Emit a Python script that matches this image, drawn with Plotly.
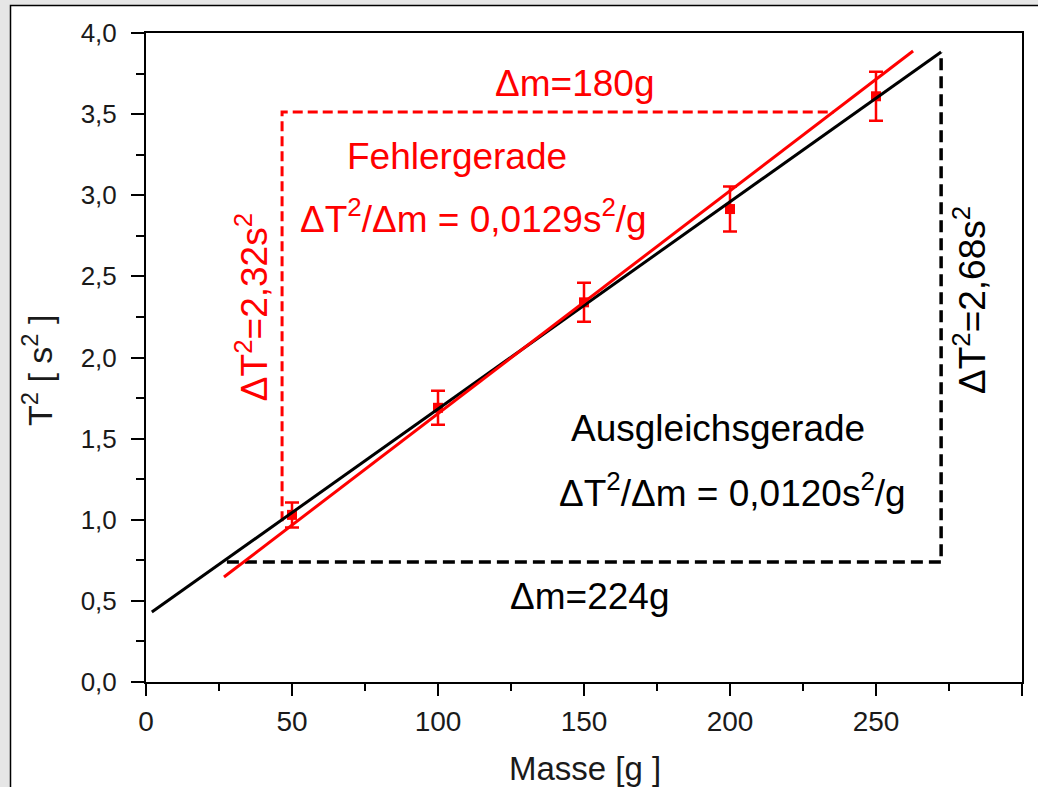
import plotly.graph_objects as go

# data
mass = [50, 100, 150, 200, 250]
t2 = [1.03, 1.69, 2.34, 2.915, 3.61]
t2_err = [0.077, 0.105, 0.12, 0.139, 0.151]

fit_x = [2.0, 272.3]
fit_y = [0.431, 3.883]
err_x = [26.7, 262.7]
err_y = [0.647, 3.889]

tri_black_x = [27.7, 272.3, 272.3]
tri_black_y = [0.74, 0.74, 3.883]
tri_red_x = [46.6, 46.6, 235.5]
tri_red_y = [0.99, 3.513, 3.513]

x_ticks = [0, 50, 100, 150, 200, 250, 300]
y_ticks = [0.0, 0.5, 1.0, 1.5, 2.0, 2.5, 3.0, 3.5, 4.0]

FONT = "Liberation Sans, Arial, sans-serif"
RED = "#ff0000"

fig = go.Figure()

fig.add_trace(go.Scatter(x=tri_black_x, y=tri_black_y, mode="lines",
                         line=dict(color="black", width=3.5, dash="12px,6px"),
                         showlegend=False, hoverinfo="skip"))
fig.add_trace(go.Scatter(x=tri_red_x, y=tri_red_y, mode="lines",
                         line=dict(color=RED, width=3, dash="10px,5px"),
                         showlegend=False, hoverinfo="skip"))
fig.add_trace(go.Scatter(x=mass, y=t2, mode="markers",
                         marker=dict(symbol="square", size=10, color=RED),
                         error_y=dict(type="data", array=t2_err, visible=True,
                                      color=RED, thickness=2.5, width=7),
                         showlegend=False))
fig.add_trace(go.Scatter(x=fit_x, y=fit_y, mode="lines",
                         line=dict(color="black", width=3),
                         showlegend=False, hoverinfo="skip"))
fig.add_trace(go.Scatter(x=err_x, y=err_y, mode="lines",
                         line=dict(color=RED, width=3),
                         showlegend=False, hoverinfo="skip"))

ann_font = dict(family=FONT, size=37)
annotations = [
    dict(x=146.9, y=3.69, text="Δm=180g", font=dict(ann_font, color=RED)),
    dict(x=106.5, y=3.236, text="Fehlergerade", font=dict(ann_font, color=RED)),
    dict(x=112, y=2.87, text="ΔT<sup>2</sup>/Δm = 0,0129s<sup>2</sup>/g", font=dict(ann_font, color=RED)),
    dict(x=36.3, y=2.31, text="ΔT<sup>2</sup>=2,32s<sup>2</sup>", textangle=-90, font=dict(ann_font, color=RED)),
    dict(x=195.9, y=1.565, text="Ausgleichsgerade", font=dict(ann_font, color="black")),
    dict(x=201, y=1.18, text="ΔT<sup>2</sup>/Δm = 0,0120s<sup>2</sup>/g", font=dict(ann_font, color="black")),
    dict(x=152, y=0.524, text="Δm=224g", font=dict(ann_font, color="black")),
    dict(x=282.2, y=2.354, text="ΔT<sup>2</sup>=2,68s<sup>2</sup>", textangle=-90, font=dict(ann_font, color="black")),
]
for a in annotations:
    a.update(xref="x", yref="y", showarrow=False, xanchor="center", yanchor="middle")

# axis titles as paper annotations
annotations.append(dict(xref="paper", yref="paper", x=(585 - 146) / 876, y=(682 - 768) / 649,
                        text="Masse [g ]", showarrow=False, xanchor="center", yanchor="middle",
                        font=dict(family=FONT, size=33, color="#1a1a1a")))
annotations.append(dict(xref="paper", yref="paper", x=(37 - 146) / 876, y=(682 - 370) / 649,
                        text="T<sup>2</sup> [ s<sup>2</sup> ]", textangle=-90, showarrow=False,
                        xanchor="center", yanchor="middle",
                        font=dict(family=FONT, size=34, color="#1a1a1a")))

fig.update_layout(
    width=1038, height=787,
    margin=dict(l=146, r=16, t=33, b=105),
    paper_bgcolor="#e6e6e6",
    plot_bgcolor="white",
    separators=",.",
    font=dict(family=FONT, size=24, color="#1a1a1a"),
    annotations=annotations,
    shapes=[dict(type="rect", xref="paper", yref="paper", layer="below",
                 x0=(10.5 - 146) / 876, x1=1.1, y0=-0.3, y1=(682 - 5.5) / 649,
                 fillcolor="white", line=dict(color="black", width=1.5))],
)
fig.update_xaxes(range=[0, 300], tickvals=x_ticks, showline=True, mirror=True,
                 linecolor="black", linewidth=2, ticks="outside", ticklen=12,
                 tickwidth=2, tickcolor="black", showgrid=False, zeroline=False,
                 minor=dict(ticks="outside", ticklen=7, tickwidth=2, tickcolor="black", dtick=25),
                 tickfont=dict(size=28, color="#1a1a1a"), ticklabelstandoff=1)
fig.update_yaxes(range=[0, 4], tickvals=y_ticks, tickformat=".1f", showline=True, mirror=True,
                 linecolor="black", linewidth=2, ticks="outside", ticklen=13,
                 tickwidth=2, tickcolor="black", showgrid=False, zeroline=False,
                 minor=dict(ticks="outside", ticklen=8, tickwidth=2, tickcolor="black", dtick=0.25),
                 tickfont=dict(size=26, color="#1a1a1a"), ticklabelstandoff=9)

fig.write_html("out.html")
